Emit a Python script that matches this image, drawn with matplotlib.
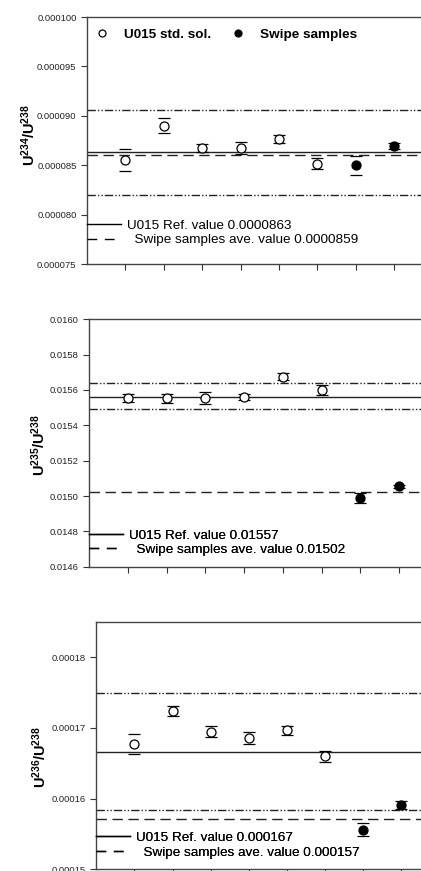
import numpy as np
import matplotlib
matplotlib.use('Agg')
import matplotlib.pyplot as plt
from matplotlib.lines import Line2D

plt.rcParams['font.family'] = ['Liberation Sans', 'DejaVu Sans']
plt.rcParams['mathtext.fontset'] = 'custom'
plt.rcParams['mathtext.rm'] = 'Liberation Sans'
plt.rcParams['mathtext.bf'] = 'Liberation Sans:bold'

# sample positions: 1-6 U015 standard solution, 7-8 swipe samples
positions = [1, 2, 3, 4, 5, 6, 7, 8]
n_std = 6

# U234/U238
u234_vals = [0.00008553, 0.0000890, 0.00008674, 0.00008674, 0.00008765, 0.00008516, 0.00008499, 0.00008694]
u234_errs = [0.0000011, 0.00000076, 0.00000045, 0.0000006, 0.00000044, 0.00000052, 0.00000095, 0.0000003]
u234_ref = 0.0000863
u234_swipe_ave = 0.0000860
u234_limits = [0.0000906, 0.0000820]

# U235/U238
u235_vals = [0.015553, 0.015553, 0.015553, 0.01556, 0.015676, 0.0156, 0.014987, 0.015055]
u235_errs = [0.000023, 0.000027, 0.000035, 0.000017, 0.00002, 0.00003, 0.000028, 0.000008]
u235_ref = 0.01556
u235_swipe_ave = 0.01502
u235_limits = [0.015638, 0.015491]

# U236/U238
u236_vals = [0.0001677, 0.00017238, 0.00016946, 0.00016856, 0.00016965, 0.00016598, 0.00015562, 0.00015906]
u236_errs = [0.0000014, 0.00000075, 0.00000075, 0.00000087, 0.00000063, 0.0000008, 0.00000095, 0.0000006]
u236_ref = 0.00016664
u236_swipe_ave = 0.00015708
u236_limits = [0.00017487, 0.00015835]

panels = [
    dict(vals=u234_vals, errs=u234_errs, ref=u234_ref, ave=u234_swipe_ave, lims=u234_limits,
         ylim=(0.000075, 0.000100), yticks=np.arange(0.000075, 0.0001001, 0.000005), fmt='%.6f',
         ylabel=r'$\mathbf{U^{234}/U^{238}}$',
         ref_label='U015 Ref. value 0.0000863', ave_label='  Swipe samples ave. value 0.0000859',
         rect=[87 / 421, 607 / 871, 334 / 421, 247 / 871], xmax=8.7, lab_x=-0.147, lab_y=0.52,
         leg_y=0.072),
    dict(vals=u235_vals, errs=u235_errs, ref=u235_ref, ave=u235_swipe_ave, lims=u235_limits,
         ylim=(0.0146, 0.0160), yticks=np.arange(0.0146, 0.01601, 0.0002), fmt='%.4f',
         ylabel=r'$\mathbf{U^{235}/U^{238}}$',
         ref_label='U015 Ref. value 0.01557', ave_label='  Swipe samples ave. value 0.01502',
         rect=[89 / 421, 304.3 / 871, 332 / 421, 247.4 / 871], xmax=8.56, lab_x=-0.122, lab_y=0.49,
         leg_y=0.043),
    dict(vals=u236_vals, errs=u236_errs, ref=u236_ref, ave=u236_swipe_ave, lims=u236_limits,
         ylim=(0.00015, 0.000185), yticks=np.arange(0.00015, 0.0001801, 0.00001), fmt='%.5f',
         ylabel=r'$\mathbf{U^{236}/U^{238}}$',
         ref_label='U015 Ref. value 0.000167', ave_label='  Swipe samples ave. value 0.000157',
         rect=[96.3 / 421, 1.7 / 871, 324.7 / 421, 247.6 / 871], xmax=8.52, lab_x=-0.145, lab_y=0.455,
         leg_y=0.043),
]

fig = plt.figure(figsize=(4.21, 8.71), dpi=100)

dashdotdot = (0, (6, 1.5, 1, 1.5, 1, 1.5))
dashed = (0, (7.5, 4))

for i, p in enumerate(panels):
    ax = fig.add_axes(p['rect'])
    ax.set_xlim(0, p['xmax'])
    ax.set_ylim(*p['ylim'])

    # reference lines
    ax.axhline(p['ref'], color='#222222', lw=1.0, zorder=1)
    ax.axhline(p['ave'], color='#222222', lw=1.0, ls=dashed, zorder=1)
    for lim in p['lims']:
        ax.axhline(lim, color='#222222', lw=1.0, ls=dashdotdot, zorder=1)

    vals = np.array(p['vals'])
    errs = np.array(p['errs'])
    x = np.array(positions)
    for sl, face in [(slice(0, n_std), 'white'), (slice(n_std, None), 'black')]:
        eb = ax.errorbar(x[sl], vals[sl], yerr=errs[sl], fmt='o', ms=6.5, mfc=face, mec='black',
                         mew=0.9, ecolor='black', capsize=4.3, capthick=1.6, elinewidth=1, zorder=3)
        eb[2][0].set_visible(False)

    ax.set_xticks(positions)
    ax.set_xticklabels([])
    ax.set_yticks(p['yticks'])
    ax.set_yticklabels([p['fmt'] % v for v in p['yticks']])
    ax.tick_params(axis='both', direction='out', length=4, width=0.8, color='#333333',
                   labelsize=6.8, labelcolor='#222222')
    ax.spines['right'].set_visible(False)
    for s in ['left', 'bottom', 'top']:
        ax.spines[s].set_color('#444444')
        ax.spines[s].set_linewidth(1.0)

    ax.set_ylabel(p['ylabel'], fontsize=10.5)
    ax.yaxis.set_label_coords(p['lab_x'], p['lab_y'])

    # legend of the reference lines
    handles = [Line2D([], [], color='black', lw=1.0),
               Line2D([], [], color='black', lw=1.0, ls=(0, (7, 5.5)))]
    leg = ax.legend(handles, [p['ref_label'], p['ave_label']], loc='lower left',
                    bbox_to_anchor=(0.0, p['leg_y']), frameon=False, fontsize=9.7,
                    handlelength=2.5, handletextpad=0.45, labelspacing=0.15,
                    borderpad=0, borderaxespad=0)
    ax.add_artist(leg)

    if i == 0:
        mk = [Line2D([], [], ls='none', marker='o', ms=5, mfc='white', mec='black', mew=0.9),
              Line2D([], [], ls='none', marker='o', ms=5, mfc='black', mec='black', mew=0.9)]
        ax.legend(mk, ['U015 std. sol.', 'Swipe samples'], loc='upper left',
                  bbox_to_anchor=(0.025, 0.955), ncol=2, frameon=False,
                  prop={'weight': 'bold', 'size': 9.7}, handlelength=1.0,
                  handletextpad=1.15, columnspacing=1.45, borderpad=0, borderaxespad=0)

fig.savefig('out.png', dpi=100)
